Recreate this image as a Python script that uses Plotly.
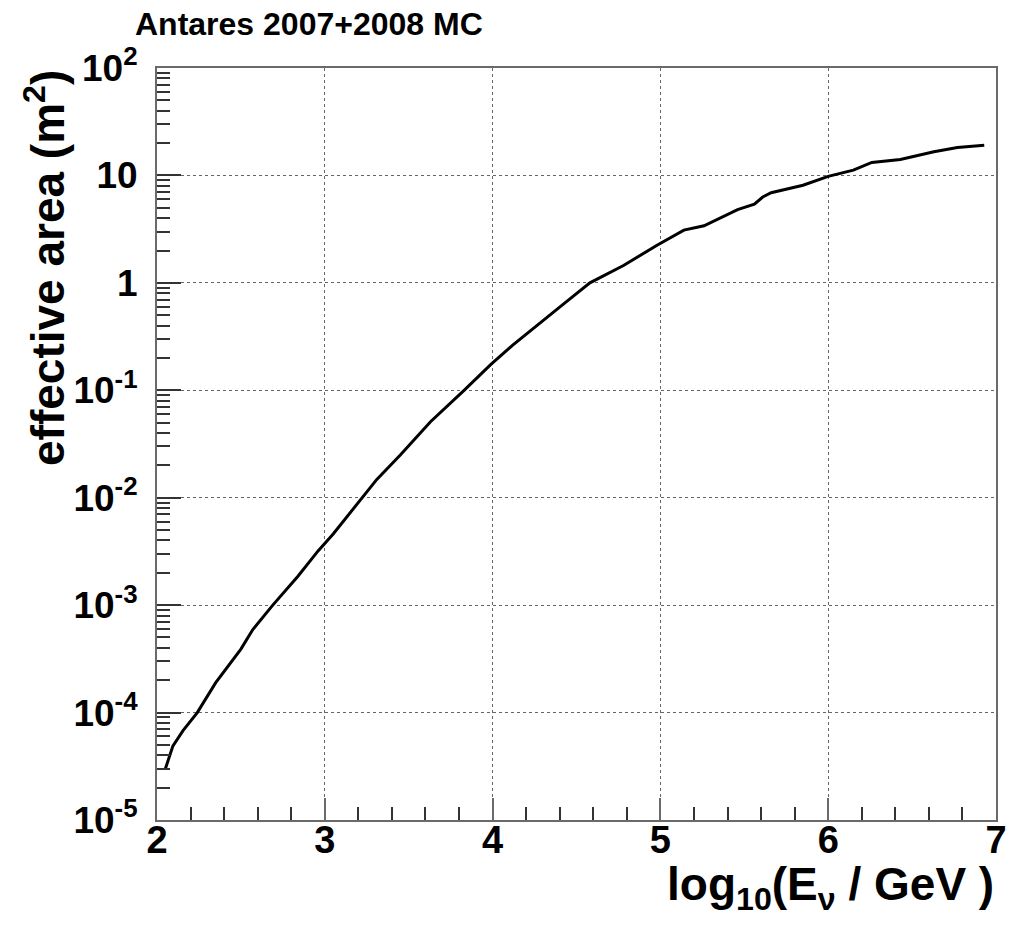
import plotly.graph_objects as go

# log10(E_nu / GeV)
log_energy = [2.05, 2.095, 2.155, 2.24, 2.35, 2.50, 2.57, 2.69, 2.84, 2.96,
              3.05, 3.15, 3.22, 3.31, 3.45, 3.63, 3.83, 3.99, 4.12, 4.27,
              4.42, 4.58, 4.78, 4.98, 5.14, 5.26, 5.46, 5.56, 5.61, 5.66,
              5.85, 6.00, 6.15, 6.26, 6.43, 6.63, 6.77, 6.93]
# effective area (m^2)
eff_area = [3.0e-5, 4.9e-5, 6.8e-5, 1.0e-4, 1.9e-4, 3.9e-4, 5.9e-4, 1.0e-3, 1.86e-3, 3.2e-3,
            4.6e-3, 7.2e-3, 1.0e-2, 1.48e-2, 2.5e-2, 5.1e-2, 0.10, 0.174, 0.263, 0.41,
            0.63, 1.0, 1.45, 2.24, 3.1, 3.4, 4.8, 5.4, 6.3, 6.9,
            8.1, 9.8, 11.2, 13.2, 14.1, 16.6, 18.2, 19.1]

y_tickvals = [1e-5, 1e-4, 1e-3, 1e-2, 1e-1, 1, 10, 100]
y_ticktext = ["10<sup>-5</sup>", "10<sup>-4</sup>", "10<sup>-3</sup>", "10<sup>-2</sup>",
              "10<sup>-1</sup>", "1", "10", "10<sup>2</sup>"]
x_tickvals = [2, 3, 4, 5, 6, 7]
x_ticktext = ["2", "3", "4", "5", "6", "7"]

title_text = "Antares 2007+2008 MC"
x_title = "log<sub>10</sub>(E<sub>ν</sub> / GeV )"
y_title = "effective area (m<sup>2</sup>)"

FONT = "Liberation Sans, Arial, sans-serif"
AXC = "#6a6a6a"

W, H = 1016, 930
L, R, T, B = 157, 20, 68, 110
PW, PH = W - L - R, H - T - B

fig = go.Figure()
fig.add_trace(go.Scatter(x=log_energy, y=eff_area, mode="lines",
                         line=dict(color="black", width=3), showlegend=False))

fig.update_layout(
    width=W, height=H,
    margin=dict(l=L, r=R, t=T, b=B, autoexpand=False),
    paper_bgcolor="white", plot_bgcolor="white",
    font=dict(family=FONT, color="black"),
    title=dict(text="<b>" + title_text + "</b>", x=135 / W, xanchor="left",
               y=1 - 24 / H, yanchor="middle", yref="container",
               font=dict(size=32, family=FONT, color="black")),
)

fig.update_xaxes(
    range=[2, 7], tickmode="array", tickvals=x_tickvals,
    ticktext=["<b>" + t + "</b>" for t in x_ticktext],
    tickfont=dict(size=38, family=FONT, color="black"),
    ticks="inside", ticklen=22, tickwidth=2, tickcolor=AXC,
    showline=True, linecolor=AXC, linewidth=2, mirror=True,
    showgrid=True, gridcolor="#666666", gridwidth=1, griddash="dot",
    zeroline=False, ticklabelstandoff=-15, automargin=False,
    minor=dict(ticks="inside", ticklen=13, tickwidth=2, tickcolor="#333333",
               dtick=0.2, showgrid=False),
)

fig.update_yaxes(
    type="log", range=[-5, 2], tickmode="array", tickvals=y_tickvals,
    ticktext=["<b>" + t + "</b>" for t in y_ticktext],
    tickfont=dict(size=37, family=FONT, color="black"),
    ticks="inside", ticklen=24, tickwidth=2, tickcolor="#333333",
    showline=True, linecolor=AXC, linewidth=2, mirror=True,
    showgrid=True, gridcolor="#666666", gridwidth=1, griddash="dot",
    zeroline=False, ticklabelstandoff=10, automargin=False,
    minor=dict(ticks="inside", ticklen=13, tickwidth=2, tickcolor="#333333",
               dtick="D1", showgrid=False),
)

fig.add_annotation(text="<b>" + x_title + "</b>", xref="paper", yref="paper",
                   x=1.0, y=-(887 - (H - B)) / PH, xanchor="right", yanchor="middle",
                   showarrow=False, font=dict(size=46, family=FONT, color="black"))
fig.add_annotation(text="<b>" + y_title + "</b>", xref="paper", yref="paper",
                   x=(45 - L) / PW, y=(H - B - 268) / PH, xanchor="center", yanchor="middle",
                   textangle=-90, showarrow=False,
                   font=dict(size=46, family=FONT, color="black"))

fig.write_html("out.html", config={"displayModeBar": False},
               post_script="document.body.style.margin='0';document.body.style.padding='0';")
